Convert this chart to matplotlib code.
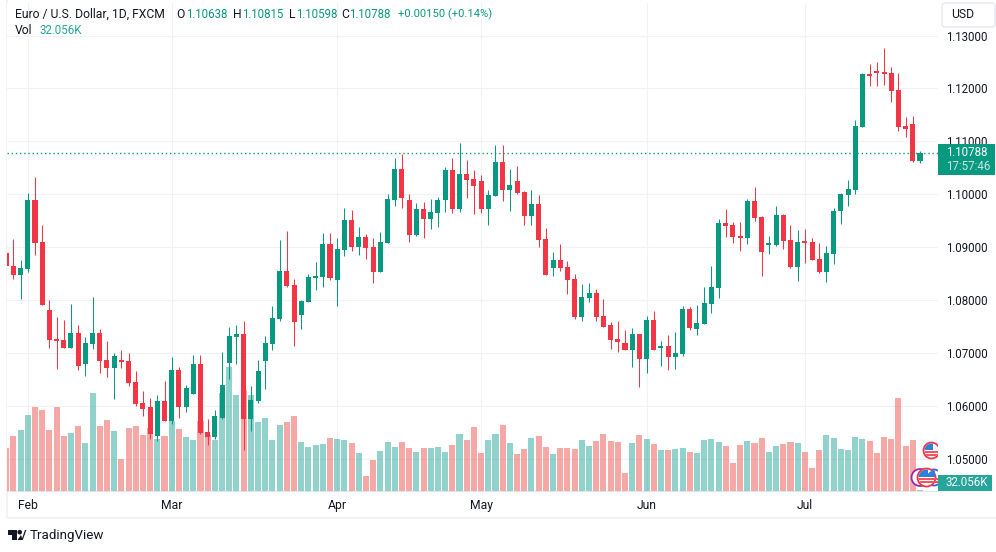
"""EUR/USD daily candles with volume, TradingView look."""

import matplotlib

matplotlib.use("Agg")
import matplotlib.pyplot as plt
import numpy as np
from matplotlib.patches import Circle, FancyBboxPatch, Polygon, Rectangle
from matplotlib.ticker import FormatStrFormatter
from matplotlib.transforms import Affine2D

W, H = 996, 552
GREEN = "#089981"
RED = "#f23645"
TEAL = "#26a69a"
GRID = "#f1f2f6"
INK = "#131722"
NUM_SIZE = 8.3

opens = [
    1.0889, 1.0865, 1.0848, 1.0859, 1.0990, 1.0910, 1.0782, 1.0727,
    1.0725, 1.0710, 1.0738, 1.0680, 1.0717, 1.0738, 1.0687, 1.0672,
    1.0687, 1.0685, 1.0646, 1.0606, 1.0597, 1.0544, 1.0610, 1.0572,
    1.0668, 1.0597, 1.0623, 1.0680, 1.0551, 1.0542, 1.0578, 1.0682,
    1.0731, 1.0735, 1.0576, 1.0610, 1.0685, 1.0717, 1.0765, 1.0855,
    1.0829, 1.0772, 1.0797, 1.0842, 1.0844, 1.0906, 1.0838, 1.0895,
    1.0952, 1.0901, 1.0920, 1.0901, 1.0854, 1.0908, 1.0990, 1.1048,
    1.0990, 1.0924, 1.0973, 1.0954, 1.0965, 1.0990, 1.1046, 1.0973,
    1.1039, 1.1029, 1.1025, 1.0973, 1.0997, 1.1061, 1.1009, 1.1025,
    1.1005, 1.0959, 1.0982, 1.0916, 1.0861, 1.0876, 1.0863, 1.0840,
    1.0769, 1.0804, 1.0814, 1.0770, 1.0752, 1.0727, 1.0719, 1.0706,
    1.0736, 1.0689, 1.0763, 1.0710, 1.0714, 1.0693, 1.0699, 1.0784,
    1.0746, 1.0755, 1.0793, 1.0823, 1.0946, 1.0942, 1.0922, 1.0918,
    1.0988, 1.0957, 1.0904, 1.0904, 1.0961, 1.0914, 1.0863, 1.0912,
    1.0910, 1.0878, 1.0854, 1.0888, 1.0969, 1.0999, 1.1008, 1.1128,
    1.1228, 1.1233, 1.1231, 1.1230, 1.1197, 1.1129, 1.1133, 1.10638,
]
highs = [
    1.0920, 1.0916, 1.0876, 1.1003, 1.1033, 1.0942, 1.0801, 1.0769,
    1.0763, 1.0793, 1.0753, 1.0731, 1.0806, 1.0746, 1.0723, 1.0700,
    1.0706, 1.0700, 1.0666, 1.0629, 1.0615, 1.0621, 1.0648, 1.0693,
    1.0674, 1.0640, 1.0697, 1.0697, 1.0576, 1.0593, 1.0702, 1.0750,
    1.0752, 1.0761, 1.0638, 1.0687, 1.0733, 1.0789, 1.0914, 1.0931,
    1.0840, 1.0801, 1.0850, 1.0872, 1.0927, 1.0927, 1.0918, 1.0975,
    1.0971, 1.0939, 1.0925, 1.0918, 1.0929, 1.1001, 1.1069, 1.1077,
    1.1001, 1.0984, 1.0986, 1.0992, 1.0995, 1.1052, 1.1069, 1.1097,
    1.1065, 1.1046, 1.1037, 1.1009, 1.1094, 1.1094, 1.1048, 1.1054,
    1.1007, 1.1009, 1.0999, 1.0937, 1.0891, 1.0906, 1.0874, 1.0850,
    1.0831, 1.0833, 1.0821, 1.0803, 1.0759, 1.0761, 1.0744, 1.0748,
    1.0736, 1.0770, 1.0780, 1.0723, 1.0734, 1.0740, 1.0789, 1.0787,
    1.0791, 1.0825, 1.0865, 1.0954, 1.0973, 1.0948, 1.0948, 1.0991,
    1.1014, 1.0959, 1.0922, 1.0978, 1.0963, 1.0942, 1.0933, 1.0935,
    1.0918, 1.0908, 1.0903, 1.0974, 1.1003, 1.1027, 1.1141, 1.1230,
    1.1247, 1.1250, 1.1277, 1.1241, 1.1230, 1.1146, 1.1148, 1.10815,
]
lows = [
    1.0850, 1.0840, 1.0803, 1.0854, 1.0886, 1.0791, 1.0710, 1.0670,
    1.0710, 1.0710, 1.0668, 1.0657, 1.0708, 1.0663, 1.0655, 1.0614,
    1.0672, 1.0638, 1.0600, 1.0580, 1.0538, 1.0534, 1.0572, 1.0566,
    1.0578, 1.0589, 1.0623, 1.0547, 1.0527, 1.0538, 1.0576, 1.0651,
    1.0680, 1.0517, 1.0553, 1.0606, 1.0632, 1.0706, 1.0761, 1.0825,
    1.0714, 1.0746, 1.0797, 1.0820, 1.0825, 1.0838, 1.0789, 1.0884,
    1.0893, 1.0886, 1.0878, 1.0833, 1.0854, 1.0908, 1.0978, 1.0975,
    1.0910, 1.0922, 1.0918, 1.0935, 1.0939, 1.0967, 1.0965, 1.0967,
    1.0993, 1.0963, 1.0965, 1.0942, 1.0997, 1.0988, 1.0969, 1.1001,
    1.0942, 1.0942, 1.0901, 1.0848, 1.0846, 1.0855, 1.0812, 1.0765,
    1.0761, 1.0797, 1.0761, 1.0750, 1.0708, 1.0702, 1.0706, 1.0674,
    1.0636, 1.0663, 1.0706, 1.0676, 1.0668, 1.0670, 1.0695, 1.0744,
    1.0734, 1.0755, 1.0776, 1.0804, 1.0920, 1.0908, 1.0893, 1.0906,
    1.0950, 1.0846, 1.0887, 1.0903, 1.0897, 1.0861, 1.0836, 1.0870,
    1.0876, 1.0852, 1.0835, 1.0869, 1.0944, 1.0978, 1.1001, 1.1128,
    1.1205, 1.1205, 1.1207, 1.1175, 1.1120, 1.1109, 1.1061, 1.10598,
]
closes = [
    1.0865, 1.0848, 1.0861, 1.0990, 1.0908, 1.0791, 1.0725, 1.0723,
    1.0710, 1.0738, 1.0676, 1.0719, 1.0738, 1.0685, 1.0672, 1.0695,
    1.0683, 1.0644, 1.0604, 1.0595, 1.0546, 1.0610, 1.0572, 1.0668,
    1.0597, 1.0634, 1.0680, 1.0549, 1.0542, 1.0580, 1.0640, 1.0733,
    1.0735, 1.0576, 1.0612, 1.0666, 1.0719, 1.0767, 1.0855, 1.0827,
    1.0759, 1.0799, 1.0844, 1.0846, 1.0906, 1.0842, 1.0897, 1.0952,
    1.0901, 1.0920, 1.0899, 1.0854, 1.0910, 1.0992, 1.1048, 1.0993,
    1.0924, 1.0973, 1.0954, 1.0967, 1.0990, 1.1046, 1.0973, 1.1039,
    1.1027, 1.1016, 1.0973, 1.0999, 1.1061, 1.1009, 1.1018, 1.1003,
    1.0959, 1.0982, 1.0914, 1.0848, 1.0876, 1.0861, 1.0838, 1.0769,
    1.0806, 1.0814, 1.0769, 1.0750, 1.0725, 1.0721, 1.0706, 1.0736,
    1.0689, 1.0763, 1.0706, 1.0714, 1.0693, 1.0700, 1.0784, 1.0748,
    1.0757, 1.0795, 1.0825, 1.0946, 1.0940, 1.0920, 1.0918, 1.0988,
    1.0956, 1.0891, 1.0906, 1.0961, 1.0912, 1.0863, 1.0910, 1.0908,
    1.0876, 1.0854, 1.0889, 1.0969, 1.1001, 1.1010, 1.1129, 1.1228,
    1.1224, 1.1230, 1.1228, 1.1196, 1.1128, 1.1124, 1.1063, 1.10788,
]
# volume in thousands
volumes = [
    1905, 2430, 2700, 3375, 3735, 3600, 2700, 3735,
    2430, 2565, 2880, 2115, 4365, 2880, 3150, 2655,
    1395, 2790, 2880, 2475, 2790, 2295, 2430, 3105,
    2745, 2385, 2250, 3105, 2475, 2250, 4365, 5535,
    4275, 4500, 4275, 3060, 3240, 2250, 2925, 3060,
    3330, 2160, 1935, 2025, 2070, 2340, 2295, 2250,
    2115, 1665, 630, 1350, 1755, 2160, 1935, 2160,
    1890, 1710, 1890, 1890, 1935, 1710, 2025, 2520,
    2250, 2835, 1665, 2250, 2520, 2925, 2115, 1620,
    1845, 2340, 2430, 1935, 1620, 1890, 1890, 1845,
    2250, 1980, 2205, 2520, 2205, 2160, 765, 2115,
    2475, 2295, 2070, 1800, 1800, 1845, 1890, 1710,
    1665, 2250, 2295, 2160, 1980, 1215, 2025, 2205,
    2115, 2340, 1710, 1980, 2070, 2160, 2115, 1710,
    990, 1800, 2475, 2340, 1845, 1800, 2385, 2295,
    2205, 1665, 2385, 2295, 4140, 1980, 2250, 32.056,
]
price_ticks = [1.05, 1.06, 1.07, 1.08, 1.09, 1.10, 1.11, 1.12, 1.13]
month_idx = [3, 23, 46, 66, 89, 111]
month_labels = ["Feb", "Mar", "Apr", "May", "Jun", "Jul"]

plt.rcParams["font.family"] = ["Roboto", "DejaVu Sans"]

opens_a, highs_a, lows_a, closes_a = map(np.array, (opens, highs, lows, closes))
x = np.arange(len(opens))
up = closes_a >= opens_a
last_close = closes[-1]

fig = plt.figure(figsize=(W / 100, H / 100), dpi=100, facecolor="white")
# pixel coordinates with origin top-left, for the chrome around the chart
px = Affine2D().scale(1, -1).translate(0, H)

rect = [7 / W, 1 - 490.5 / H, 931 / W, 487.5 / H]
xlim = (0.11, 129.5)
ylim = (1.04401, 1.13616)

# bottom layer: grid and price scale
ax = fig.add_axes(rect, zorder=1)
ax.set_xlim(xlim)
ax.set_ylim(ylim)
ax.set_yticks(price_ticks)
ax.yaxis.tick_right()
ax.yaxis.set_major_formatter(FormatStrFormatter("%.5f"))
ax.set_xticks(month_idx, month_labels)
ax.tick_params(length=0, labelsize=NUM_SIZE, colors=INK)
ax.tick_params(axis="y", pad=5.5)
ax.tick_params(axis="x", pad=6, labelsize=8.7)
ax.grid(True, color=GRID, lw=0.8)
ax.set_axisbelow(True)
for name, spine in ax.spines.items():
    spine.set_visible(name == "bottom")
ax.spines["bottom"].set_color("#e0e3eb")
ax.spines["bottom"].set_linewidth(0.8)

# middle layer: volume
ax_vol = fig.add_axes(rect, zorder=2, facecolor="none")
ax_vol.set_xlim(xlim)
ax_vol.set_ylim(0, 21937)
ax_vol.bar(x, volumes, width=0.84, color=[TEAL if u else "#ef5350" for u in up], alpha=0.5, linewidth=0)
ax_vol.axis("off")

# top layer: candles
ax_c = fig.add_axes(rect, zorder=3, facecolor="none")
ax_c.set_xlim(xlim)
ax_c.set_ylim(ylim)
ax_c.axis("off")
colors = [GREEN if u else RED for u in up]
wicks = ax_c.vlines(x, lows_a, highs_a, colors=colors, lw=0.75)
wicks.set_snap(True)
bodies = np.maximum(np.abs(closes_a - opens_a), 0.0003)
ax_c.bar(x, bodies, bottom=np.minimum(opens_a, closes_a), width=0.7, color=colors, linewidth=0)
ax_c.axhline(last_close, color=GREEN, lw=1, ls=(0, (1, 2)), zorder=1)


def flag(cx, cy, r, ring=RED):
    """Small round US flag marker, position in pixels."""
    disc = Circle((cx, cy), r, transform=px, fc="white", ec=ring, lw=1.3, zorder=5)
    ax_c.add_patch(disc)
    parts = [
        Rectangle((cx - r, cy + 0.5), 2 * r, 1.6, transform=px, fc="#f7525f", lw=0, zorder=6),
        Rectangle((cx - r, cy + 3.5), 2 * r, 1.6, transform=px, fc="#f7525f", lw=0, zorder=6),
        Rectangle((cx - r, cy - r), r + 1, r - 0.5, transform=px, fc="#2f80d8", lw=0, zorder=6),
    ]
    for part in parts:
        ax_c.add_patch(part)
        part.set_clip_path(Circle((cx, cy), r - 1, transform=px))


flag(931.5, 450.5, 8)
ax_c.add_patch(Circle((920, 477.5), 8.5, transform=px, fc="white", ec="#9c27b0", lw=1.3, zorder=4))
flag(934, 477.5, 8, ring="#2962ff")
flag(926.5, 477.5, 9)

# right hand price tags
fig.add_artist(Rectangle((938, 144), 57, 31, transform=px, fc=GREEN, lw=0, zorder=4))
fig.text(946, 152.5, "1.10788", transform=px, color="white", fontsize=NUM_SIZE, va="center", zorder=5)
fig.text(946, 167, "17:57:46", transform=px, color="#c8e9e3", fontsize=NUM_SIZE, va="center", zorder=5)
fig.add_artist(Rectangle((938, 475), 54, 15.5, transform=px, fc=TEAL, lw=0, zorder=4))
fig.text(946, 482.5, "32.056K", transform=px, color="white", fontsize=NUM_SIZE, va="center", zorder=5)

# USD button
fig.add_artist(
    FancyBboxPatch(
        (945, 6), 47, 18, boxstyle="round,pad=3,rounding_size=3", transform=px,
        fc="white", ec="#e6e9f0", lw=1, zorder=4,
    )
)
fig.text(951, 15, "USD", transform=px, color=INK, fontsize=8.7, va="center", zorder=5)

# legend text, top left
head = [
    (15, "Euro / U.S. Dollar, 1D, FXCM", INK, 8.7),
    (176, "O", INK, 8.7), (186, "1.10638", GREEN, NUM_SIZE),
    (233, "H", INK, 8.7), (242, "1.10815", GREEN, NUM_SIZE),
    (289, "L", INK, 8.7), (296, "1.10598", GREEN, NUM_SIZE),
    (341, "C", INK, 8.7), (349, "1.10788", GREEN, NUM_SIZE),
    (398, "+0.00150 (+0.14%)", GREEN, 8.1),
]
for left, text, color, size in head:
    fig.text(left, 14, text, transform=px, color=color, fontsize=size, va="center", zorder=5)
fig.text(15, 31, "Vol", transform=px, color=INK, fontsize=8.7, va="center", zorder=5)
fig.text(39, 31, "32.056K", transform=px, color=TEAL, fontsize=NUM_SIZE, va="center", zorder=5)

# frame around chart and time scale
fig.add_artist(Rectangle((6, 0), 1.5, 518, transform=px, fc=GRID, lw=0, zorder=0))
fig.add_artist(Rectangle((6, 517), W - 6, 1.8, transform=px, fc=GRID, lw=0, zorder=0))

# TradingView logo
fig.add_artist(Polygon([(7.5, 530), (17, 530), (17, 540), (12, 540), (12, 534.5), (7.5, 534.5)], transform=px, fc=INK, lw=0))
fig.add_artist(Circle((19.7, 532.2), 2.3, transform=px, fc=INK, lw=0))
fig.add_artist(Polygon([(21.5, 540), (25, 530), (26.5, 530), (26, 531), (22.8, 540)], transform=px, fc=INK, lw=0))
fig.add_artist(Polygon([(17.5, 540), (21, 535), (22.8, 540)], transform=px, fc=INK, lw=0))
fig.text(30, 535, "TradingView", transform=px, color=INK, fontsize=9.6, va="center")

fig.savefig("out.png", dpi=100, facecolor="white")
plt.close(fig)
